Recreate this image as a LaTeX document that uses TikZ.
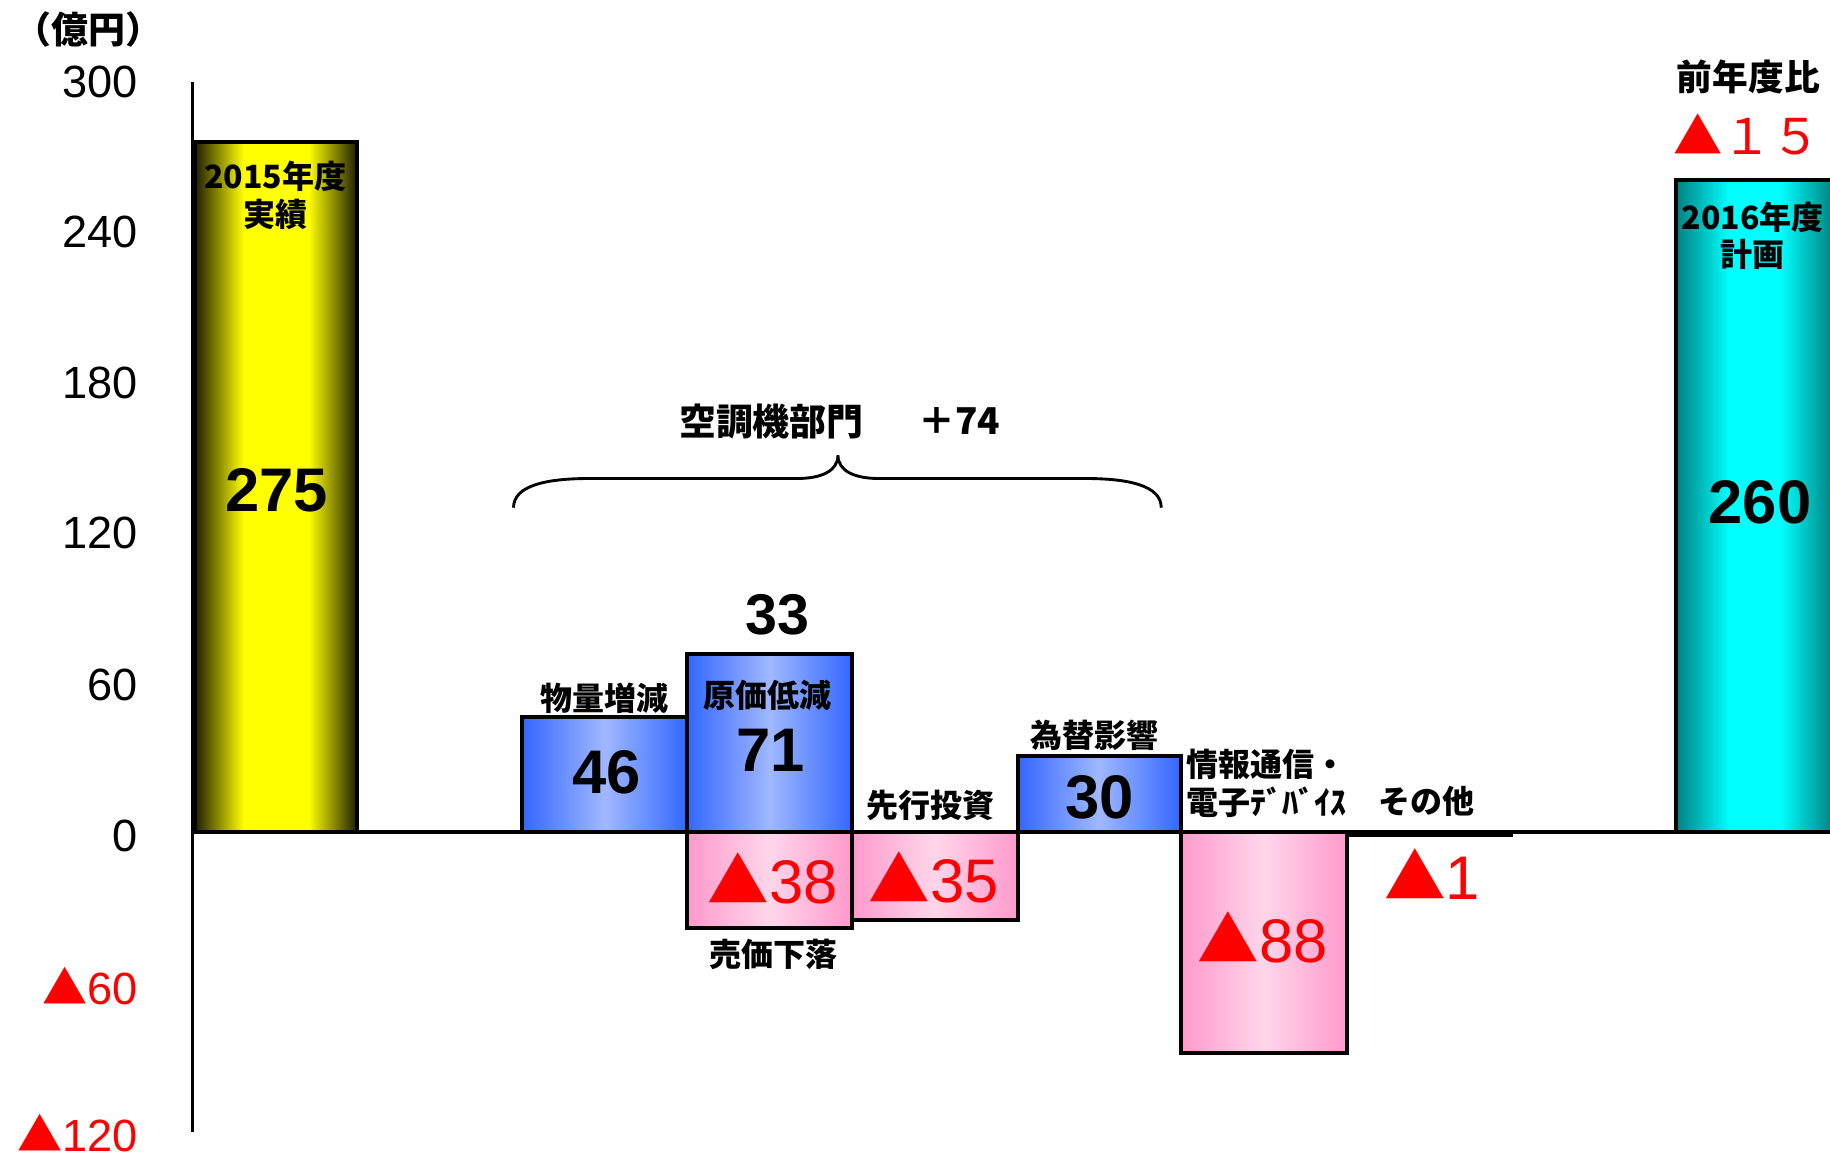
\documentclass[tikz,border=0pt]{standalone}
\usepackage{fontspec}
\setmainfont{Liberation Sans}
\newfontfamily\jp{Noto Sans CJK JP}
\definecolor{blueedge}{RGB}{51,102,255}
\definecolor{bluemid}{RGB}{160,184,255}
\definecolor{pinkedge}{RGB}{255,153,204}
\definecolor{pinkmid}{RGB}{255,214,234}
\definecolor{yeledge}{RGB}{30,30,0}
\definecolor{yelmid}{RGB}{255,255,0}
\definecolor{cyanedge}{RGB}{0,128,128}
\definecolor{cyanmid}{RGB}{0,255,255}
\pgfdeclarehorizontalshading{yelsh}{100bp}{color(0bp)=(yeledge); color(25bp)=(yeledge); color(40bp)=(yelmid); color(60bp)=(yelmid); color(75bp)=(yeledge); color(100bp)=(yeledge)}
\pgfdeclarehorizontalshading{cyansh}{100bp}{color(0bp)=(cyanedge); color(25bp)=(cyanedge); color(42bp)=(cyanmid); color(58bp)=(cyanmid); color(75bp)=(cyanedge); color(100bp)=(cyanedge)}
\newcommand{\tri}{{\jp ▲}}
\begin{document}
\begin{tikzpicture}[x=0.01cm,y=-0.01cm,
  bar/.style={draw=black, line width=1pt},
  posbar/.style={bar, left color=blueedge, right color=blueedge, middle color=bluemid},
  negbar/.style={bar, left color=pinkedge, right color=pinkedge, middle color=pinkmid},
  lbl/.style={inner sep=0pt, font=\jp\bfseries\fontsize{7.8}{9}\selectfont},
  val/.style={inner sep=0pt, font=\bfseries\fontsize{15}{17}\selectfont},
  negval/.style={inner sep=0pt, text=red, font=\fontsize{15}{17}\selectfont},
  axl/.style={inner sep=0pt, anchor=east, font=\fontsize{11}{13}\selectfont},
  rule/.style={line width=0.8pt}]
\useasboundingbox (0,0) rectangle (1568,991);
% axes
\coordinate (axtop) at (165,70);
\coordinate (axbot) at (165,970);
\coordinate (zl) at (165,713);
\coordinate (zr) at (1568,713);
\draw[rule] (axtop) -- (axbot);
\draw[rule] (zl) -- (zr);
% axis labels
\node[inner sep=0pt, font=\jp\bfseries\fontsize{9}{10}\selectfont] (unit) at (76,25) {（億円）};
\node[axl] (t300) at (119,70) {300};
\node[axl] (t240) at (119,199) {240};
\node[axl] (t180) at (119,328) {180};
\node[axl] (t120) at (119,457) {120};
\node[axl] (t60) at (119,587) {60};
\node[axl] (t0) at (119,716) {0};
\node[axl, text=red] (tm60) at (119,845) {\tri60};
\node[axl, text=red] (tm120) at (119,971) {\tri120};
% bars
\path[bar, shading=yelsh] (167,122) rectangle (306,713);
\path[bar, shading=cyansh] (1436,154) rectangle (1571,713);
\path[posbar] (447,614) rectangle (589,713);
\path[posbar] (589,560) rectangle (730,713);
\path[negbar] (589,713) rectangle (730,795);
\path[negbar] (730,713) rectangle (872,788);
\path[posbar] (872,648) rectangle (1012,713);
\path[negbar] (1012,713) rectangle (1154,902);
\path[bar, fill=black] (1154,713) rectangle (1295,715);
% bar texts
\node[lbl] (y15a) at (236,151) {2015年度};
\node[lbl] (y15b) at (236,184) {実績};
\node[val] (v275) at (237,420) {275};
\node[lbl] (y16a) at (1502,186) {2016年度};
\node[lbl] (y16b) at (1502,218) {計画};
\node[val] (v260) at (1508,430) {260};
\node[inner sep=0pt, font=\jp\bfseries\fontsize{8.7}{10}\selectfont] (prev) at (1498,66) {前年度比};
\node[inner sep=0pt, text=red, font=\jp\fontsize{12}{14}\selectfont] (diff) at (1497,115) {▲１５};
\node[lbl] (l46) at (518,598) {物量増減};
\node[val] (v46) at (520,662) {46};
\node[lbl] (l71) at (658,596) {原価低減};
\node[val] (v71) at (660,643) {71};
\node[val, font=\bfseries\fontsize{14}{16}\selectfont] (v33) at (666,527) {33};
\node[negval] (v38) at (662,753) {\tri38};
\node[lbl] (l38) at (663,818) {売価下落};
\node[lbl] (l35) at (797,690) {先行投資};
\node[negval] (v35) at (800,752) {\tri35};
\node[lbl] (l30) at (938,630) {為替影響};
\node[val] (v30) at (942,683) {30};
\node[lbl] (l88a) at (1085,655) {情報通信・};
\node[lbl] (l88b) at (1085,687) {電子ﾃﾞﾊﾞｲｽ};
\node[negval] (v88) at (1082,803) {\tri88};
\node[lbl] (l1) at (1222,687) {その他};
\node[negval] (v1) at (1227,749) {\tri1};
% brace and group label
\node[inner sep=0pt, font=\jp\bfseries\fontsize{9}{11}\selectfont] (grp) at (661,361) {空調機部門};
\node[inner sep=0pt, font=\jp\bfseries\fontsize{9}{11}\selectfont] (grpv) at (822,361) {＋74};
\coordinate (brl) at (440,435);
\coordinate (brm) at (718,390);
\coordinate (brr) at (995,435);
\draw[line width=0.7pt] (brl) .. controls (440,416) and (468,410) .. (505,410) -- (683,410)
  .. controls (703,410) and (718,404) .. (brm) .. controls (718,404) and (733,410) .. (753,410)
  -- (930,410) .. controls (967,410) and (995,416) .. (brr);
\end{tikzpicture}
\end{document}
